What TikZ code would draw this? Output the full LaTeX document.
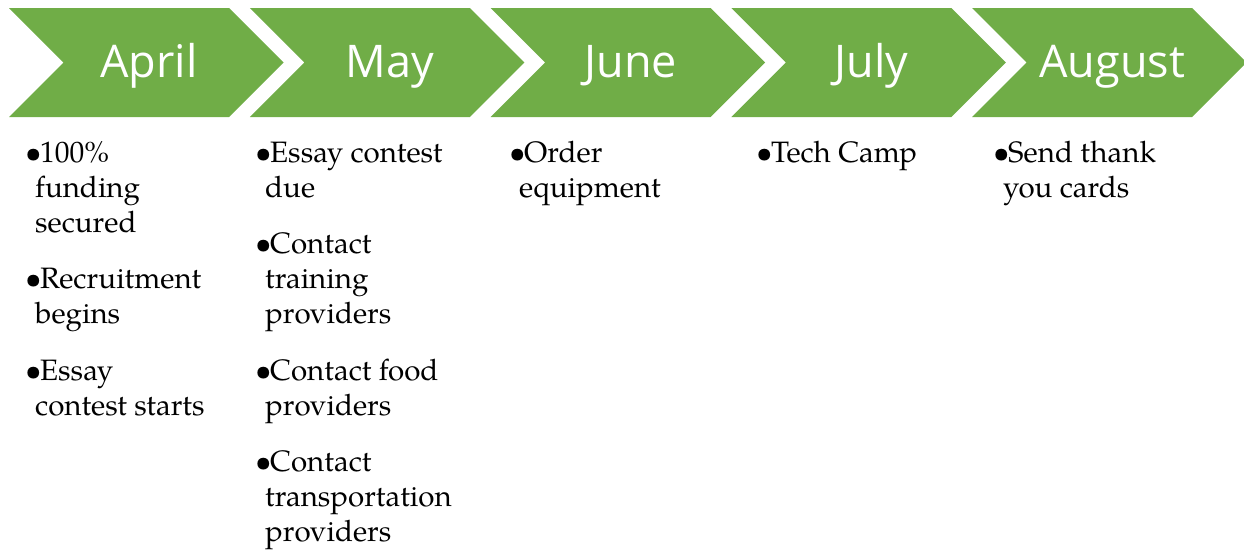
\documentclass[tikz,border=0pt]{standalone}
\usepackage{fontspec}
\newfontfamily\monthfont{Open Sans}
\newfontfamily\bodyfont{TeX Gyre Pagella}
\definecolor{chevgreen}{HTML}{70AD47}
\tikzset{
  chev/.style={fill=chevgreen, draw=none},
  monthlbl/.style={anchor=base, text=white, inner sep=0pt, font=\monthfont\fontsize{45}{54}\selectfont},
  itemcol/.style={anchor=base west, inner sep=0pt, font=\bodyfont\fontsize{29.5}{35}\selectfont},
}
\newcommand{\bul}{\makebox[15pt][l]{\textbullet}}
\newcommand{\cont}{\hspace*{10pt}}
\newenvironment{itemlines}{\begin{tabular}[t]{@{}l@{}}}{\end{tabular}}
\begin{document}
\begin{tikzpicture}[x=1pt,y=-1pt]
\useasboundingbox (0,0) rectangle (1244,552);
\foreach \i/\m/\n in {0/April/m1,1/May/m2,2/June/m3,3/July/m4,4/August/m5}{
  \pgfmathsetmacro{\xo}{9+240.8*\i}
  \path[chev] (\xo,8) -- (\xo+220,8) -- (\xo+274.5,62.5) -- (\xo+220,117) -- (\xo,117) -- (\xo+54.5,62.5) -- cycle;
  \node[monthlbl] (\n) at (\xo+140,77) {\m};
}
\node[itemcol] (c1) at (25,162) {\begin{itemlines}\bul100\%\\ \cont funding\\ \cont secured\\[21.5pt]
  \bul Recruitment\\ \cont begins\\[21.5pt]
  \bul Essay\\ \cont contest starts\end{itemlines}};
\node[itemcol] (c2) at (255,162) {\begin{itemlines}\bul Essay contest\\ \cont due\\[21.5pt]
  \bul Contact\\ \cont training\\ \cont providers\\[21.5pt]
  \bul Contact food\\ \cont providers\\[21.5pt]
  \bul Contact\\ \cont transportation\\ \cont providers\end{itemlines}};
\node[itemcol] (c3) at (509,162) {\begin{itemlines}\bul Order\\ \cont equipment\end{itemlines}};
\node[itemcol] (c4) at (756,162) {\begin{itemlines}\bul Tech Camp\end{itemlines}};
\node[itemcol] (c5) at (993,162) {\begin{itemlines}\bul Send thank\\ \cont you cards\end{itemlines}};
\end{tikzpicture}
\end{document}
